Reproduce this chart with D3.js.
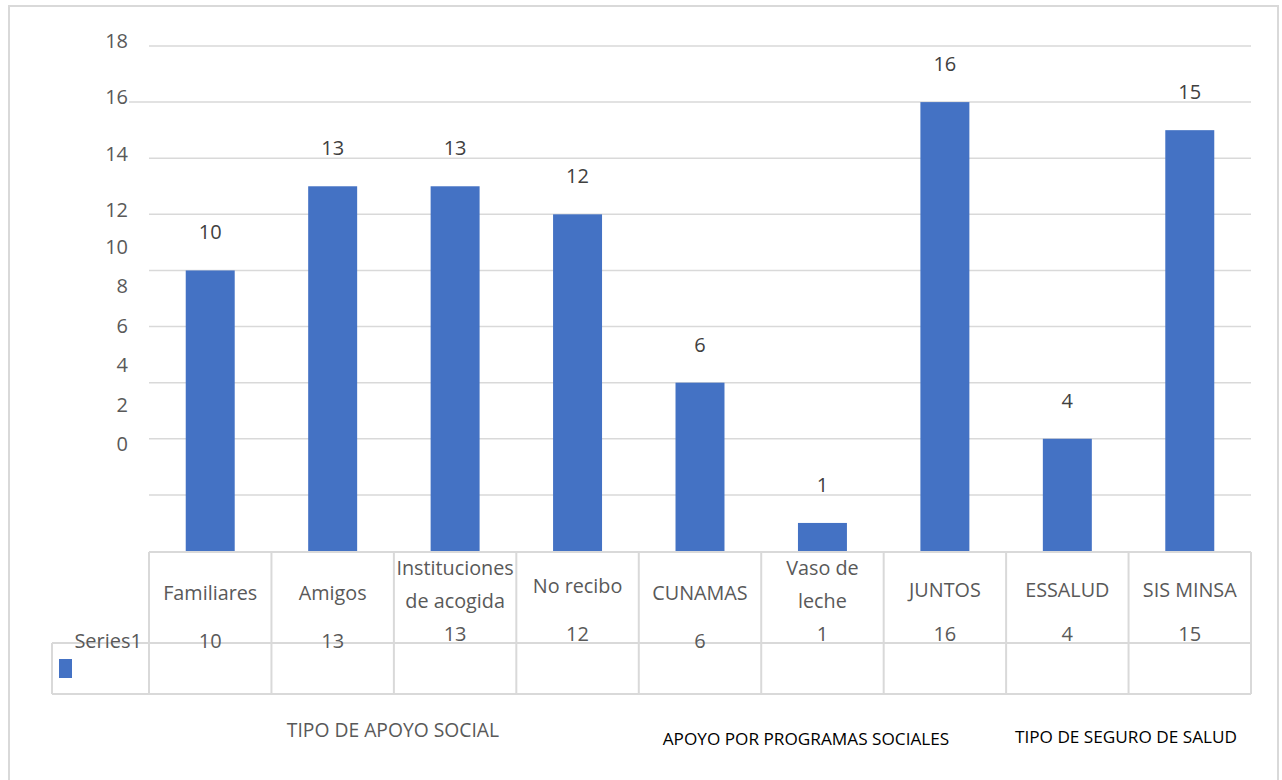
<!DOCTYPE html>
<html>
<head>
<meta charset="utf-8">
<script src="https://cdn.jsdelivr.net/npm/d3@7"></script>
<style>
  html, body { margin: 0; padding: 0; background: #fff; }
  svg { display: block; font-family: "Open Sans", Lato, sans-serif; }
</style>
</head>
<body>
<svg id="chart" width="1282" height="780"></svg>
<script>
// Social support survey counts
const categories = ["Familiares", "Amigos", "Instituciones de acogida", "No recibo",
                    "CUNAMAS", "Vaso de leche", "JUNTOS", "ESSALUD", "SIS MINSA"];
const categoryLines = [["Familiares"], ["Amigos"], ["Instituciones", "de acogida"], ["No recibo"],
                       ["CUNAMAS"], ["Vaso de", "leche"], ["JUNTOS"], ["ESSALUD"], ["SIS MINSA"]];
const series1 = [10, 13, 13, 12, 6, 1, 16, 4, 15];
const seriesName = "Series1";
const tickValues = [0, 2, 4, 6, 8, 10, 12, 14, 16, 18];
const groupTitles = ["TIPO DE APOYO SOCIAL", "APOYO POR PROGRAMAS SOCIALES", "TIPO DE SEGURO DE SALUD"];

const svg = d3.select("#chart");
const plot = { left: 149, right: 1251, top: 46, bottom: 551 };
const tableMid = 643, tableBottom = 694, legendLeft = 52;
const gridColor = "#d9d9d9";
const barColor = "#4472c4";

// outer chart frame
svg.append("rect")
  .attr("x", 9).attr("y", 6).attr("width", 1269).attr("height", 790)
  .attr("fill", "#fff").attr("stroke", gridColor).attr("stroke-width", 2);

const x = d3.scaleBand().domain(categories).range([plot.left, plot.right]).paddingInner(0.6).paddingOuter(0.3);
const y = d3.scaleLinear().domain([0, 18]).range([plot.bottom, plot.top]);

// tick labels sit on their own uneven ladder beside the gridlines
const tickLabelY = d3.scaleLinear().domain([0, 10, 12, 18]).range([444, 247, 210, 41]);

// gridlines
svg.append("g")
  .selectAll("line").data(tickValues.filter(v => v > 0)).join("line")
  .attr("x1", d => d === 16 ? plot.left - 20 : plot.left)
  .attr("x2", plot.right)
  .attr("y1", d => y(d)).attr("y2", d => y(d))
  .attr("stroke", gridColor).attr("stroke-width", 1.5);

// y tick labels
svg.append("g")
  .selectAll("text").data(tickValues).join("text")
  .attr("x", 128)
  .attr("y", d => tickLabelY(d))
  .attr("dy", "0.35em")
  .attr("text-anchor", "end")
  .attr("fill", "#595959")
  .attr("font-size", 20)
  .text(d => d);

// bars
svg.append("g")
  .selectAll("rect").data(series1).join("rect")
  .attr("x", (d, i) => x(categories[i]))
  .attr("width", x.bandwidth())
  .attr("y", d => y(d))
  .attr("height", d => y(0) - y(d))
  .attr("fill", barColor);

// value labels above bars
svg.append("g")
  .selectAll("text").data(series1).join("text")
  .attr("x", (d, i) => x(categories[i]) + x.bandwidth() / 2)
  .attr("y", d => y(d) - 38)
  .attr("dy", "0.35em")
  .attr("text-anchor", "middle")
  .attr("fill", "#404040")
  .attr("font-size", 20)
  .text(d => d);

// data table grid
const colEdges = categories.map(c => x(c) - x.step() * x.paddingInner() / 2);
colEdges.push(plot.right);
const tbl = svg.append("g").attr("stroke", gridColor).attr("stroke-width", 2).attr("fill", "none");
tbl.append("line").attr("x1", plot.left).attr("x2", plot.right).attr("y1", plot.bottom + 1).attr("y2", plot.bottom + 1);
tbl.append("line").attr("x1", legendLeft).attr("x2", plot.right).attr("y1", tableMid).attr("y2", tableMid);
tbl.append("line").attr("x1", legendLeft).attr("x2", plot.right).attr("y1", tableBottom).attr("y2", tableBottom);
tbl.append("line").attr("x1", legendLeft).attr("x2", legendLeft).attr("y1", tableMid).attr("y2", tableBottom);
tbl.selectAll("line.col").data(colEdges).join("line").attr("class", "col")
  .attr("x1", d => d).attr("x2", d => d)
  .attr("y1", plot.bottom + 1).attr("y2", tableBottom);

// category names in the table header row
const catG = svg.append("g").attr("fill", "#595959").attr("font-size", 19.8).attr("text-anchor", "middle");
categoryLines.forEach((lines, i) => {
  const cx = x(categories[i]) + x.bandwidth() / 2;
  const baseY = lines.length === 2 ? 568 : (i === 3 ? 586 : (i >= 6 ? 590 : 593));
  lines.forEach((ln, j) => {
    catG.append("text")
      .attr("x", cx).attr("y", baseY + j * 33).attr("dy", "0.35em")
      .text(ln);
  });
});

// values in the table row
const valueRowY = [641, 641, 634, 634, 641, 634, 634, 634, 634];
svg.append("g")
  .selectAll("text").data(series1).join("text")
  .attr("x", (d, i) => x(categories[i]) + x.bandwidth() / 2)
  .attr("y", (d, i) => valueRowY[i])
  .attr("dy", "0.35em")
  .attr("text-anchor", "middle")
  .attr("fill", "#595959")
  .attr("font-size", 20)
  .text(d => d);

// legend key and series name
svg.append("rect").attr("x", 59).attr("y", 659).attr("width", 13).attr("height", 19).attr("fill", barColor);
svg.append("text").attr("x", 142).attr("y", 641).attr("dy", "0.35em")
  .attr("text-anchor", "end").attr("fill", "#595959").attr("font-size", 20).text(seriesName);

// group titles under the table
const titleSpec = [
  { x: 393, y: 730, fill: "#595959", size: 19.3 },
  { x: 806, y: 739, fill: "#000", size: 17.2 },
  { x: 1126, y: 737, fill: "#000", size: 17.2 }
];
svg.append("g").selectAll("text").data(groupTitles).join("text")
  .attr("x", (d, i) => titleSpec[i].x)
  .attr("y", (d, i) => titleSpec[i].y)
  .attr("dy", "0.35em")
  .attr("text-anchor", "middle")
  .attr("fill", (d, i) => titleSpec[i].fill)
  .attr("font-size", (d, i) => titleSpec[i].size)
  .text(d => d);
</script>
</body>
</html>
